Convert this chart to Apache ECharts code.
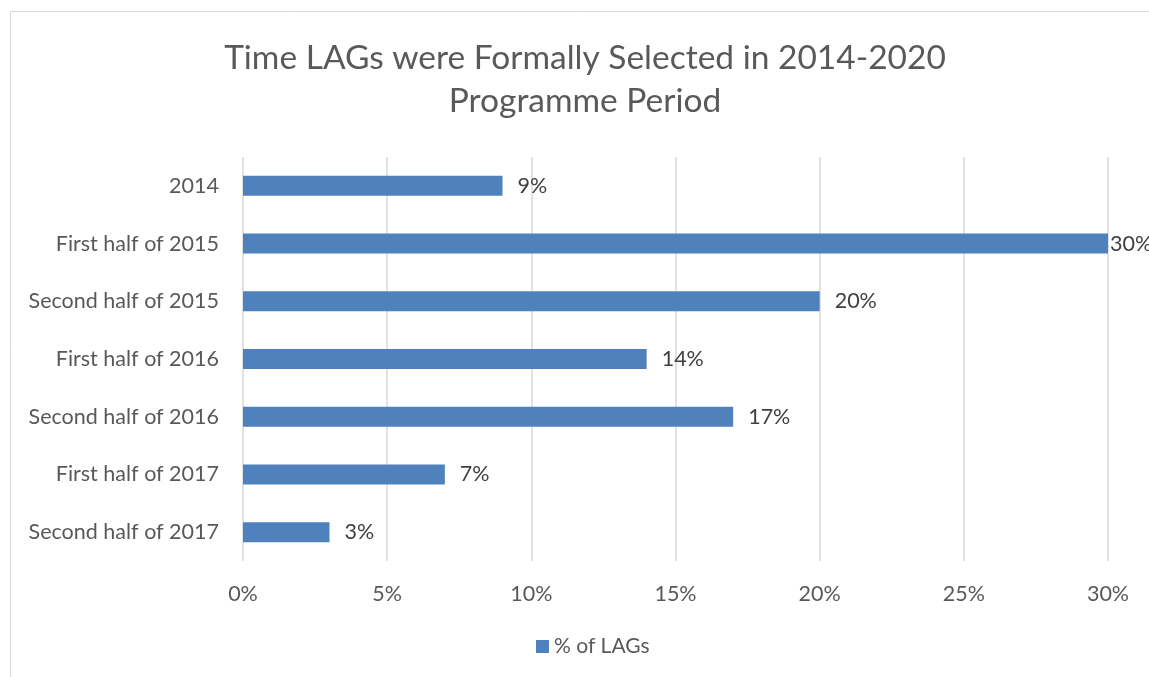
<!DOCTYPE html>
<html>
<head>
<meta charset="utf-8">
<script src="https://cdn.jsdelivr.net/npm/echarts@6/dist/echarts.min.js"></script>
<style>
  html, body { margin: 0; padding: 0; background: #fff; }
  #chart { width: 1149px; height: 677px; }
</style>
</head>
<body>
<div id="chart"></div>
<script>
const titleLines = ['Time LAGs were Formally Selected in 2014-2020', 'Programme Period'];
const categories = [
  '2014',
  'First half of 2015',
  'Second half of 2015',
  'First half of 2016',
  'Second half of 2016',
  'First half of 2017',
  'Second half of 2017'
];
const shareOfLags = [9, 30, 20, 14, 17, 7, 3];
const seriesName = '% of LAGs';

const font = 'Lato, "Open Sans", sans-serif';
const chart = echarts.init(document.getElementById('chart'));

chart.setOption({
  animation: false,
  backgroundColor: '#fff',
  graphic: [{
    type: 'rect',
    shape: { x: 10.5, y: 11.5, width: 1200, height: 700 },
    style: { fill: 'none', stroke: '#d9d9d9', lineWidth: 1 },
    silent: true
  }],
  title: {
    text: titleLines.join('\n'),
    left: 580,
    top: 32,
    textAlign: 'center',
    textStyle: { fontFamily: font, fontSize: 33.5, fontWeight: 'normal', color: '#595959', lineHeight: 43 }
  },
  legend: {
    bottom: 15,
    left: 531,
    itemWidth: 13,
    itemHeight: 13,
    itemGap: 6,
    icon: 'rect',
    textStyle: { fontFamily: font, fontSize: 21, color: '#595959' },
    data: [seriesName]
  },
  grid: { left: 243, right: 41, top: 157, bottom: 116, containLabel: false },
  xAxis: {
    type: 'value',
    min: 0,
    max: 30,
    interval: 5,
    axisLine: { show: false },
    axisTick: { show: false },
    axisLabel: { formatter: '{value}%', margin: 22, fontFamily: font, fontSize: 21.5, color: '#595959' },
    splitLine: { lineStyle: { color: '#d9d9d9', width: 1.5 } }
  },
  yAxis: {
    type: 'category',
    inverse: true,
    data: categories,
    axisLine: { show: false },
    axisTick: { show: false },
    axisLabel: { margin: 24, fontFamily: font, fontSize: 21.5, color: '#595959' }
  },
  series: [{
    name: seriesName,
    type: 'bar',
    barWidth: 20,
    data: shareOfLags.map((v) => ({
      value: v,
      label: { distance: v === 30 ? 2 : 15 }
    })),
    itemStyle: { color: '#4f81bd' },
    label: {
      show: true,
      position: 'right',
      formatter: '{c}%',
      fontFamily: font,
      fontSize: 21.5,
      color: '#404040'
    }
  }]
});
</script>
</body>
</html>
